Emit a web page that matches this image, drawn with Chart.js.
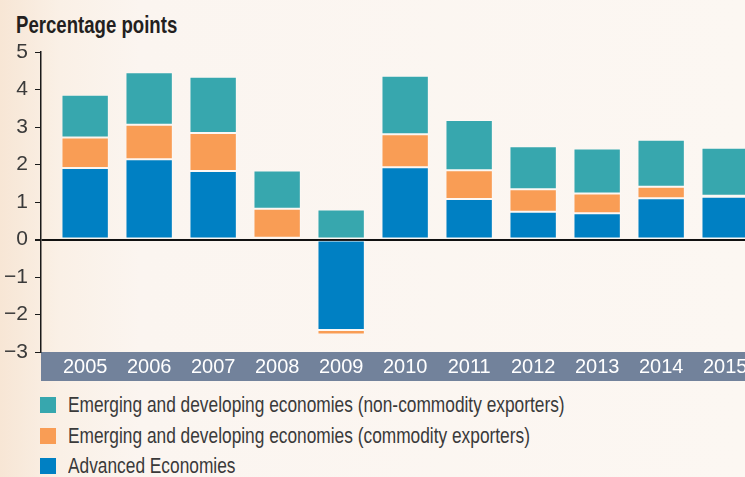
<!DOCTYPE html>
<html>
<head>
<meta charset="utf-8">
<script src="https://cdn.jsdelivr.net/npm/chart.js@4/dist/chart.umd.min.js"></script>
<style>
  html, body { margin: 0; padding: 0; }
  body {
    width: 745px; height: 477px; overflow: hidden; position: relative;
    background: linear-gradient(90deg, #f7e6d5 0px, #faf0e6 60px, #fbf5f0 140px, #fcf7f2 745px);
    font-family: "Liberation Sans", Arial, sans-serif;
  }
  #title {
    position: absolute; left: 16px; top: 11px; white-space: nowrap;
    font-size: 24px; font-weight: bold; color: #231f20;
    transform: scaleX(0.775); transform-origin: 0 0;
  }
  #wrap { position: absolute; left: 0; top: 0; width: 745px; height: 381px; }
  #legend { position: absolute; left: 40px; top: 390px; }
  .item { height: 30.5px; display: flex; align-items: center; }
  .sw { width: 16px; height: 16px; margin-right: 12px; flex: none; }
  .txt { font-size: 22px; color: #3a3a3a; white-space: nowrap; transform: scaleX(0.787); transform-origin: 0 50%; }
</style>
</head>
<body>
<div id="title">Percentage points</div>
<div id="wrap"><canvas id="c" width="745" height="381"></canvas></div>
<div id="legend"></div>
<script>
const years = [2005, 2006, 2007, 2008, 2009, 2010, 2011, 2012, 2013, 2014, 2015];
const advanced     = [1.91, 2.14, 1.83, 0.05, -2.41, 1.93, 1.08, 0.74, 0.70, 1.10, 1.14];
const commodity    = [0.81, 0.92, 1.01, 0.77, -0.12, 0.88, 0.77, 0.60, 0.53, 0.31, 0.03];
const nonCommodity = [1.14, 1.40, 1.50, 1.02, 0.80, 1.56, 1.34, 1.15, 1.20, 1.25, 1.28];
const yTicks = [-3, -2, -1, 0, 1, 2, 3, 4, 5];

const labelsTxt = {
  non: "Emerging and developing economies (non-commodity exporters)",
  com: "Emerging and developing economies (commodity exporters)",
  adv: "Advanced Economies"
};
const colors = { adv: "#0080c3", com: "#f99d55", non: "#37a7ae" };

function pts(arr) { return arr.map((v, i) => ({ x: years[i], y: v })); }

const bandPlugin = {
  id: 'band',
  beforeDraw(chart) {
    const { ctx, chartArea, scales } = chart;
    const xs = scales.x;
    ctx.save();
    ctx.fillStyle = '#72829b';
    ctx.fillRect(chartArea.left, xs.top, chart.width - chartArea.left, xs.bottom - xs.top);
    ctx.restore();
  }
};

const tickFont = { family: '"Liberation Sans", Arial, sans-serif', size: 20 };
const edge = 'rgba(255,255,255,0.28)';

const chart = new Chart(document.getElementById('c'), {
  type: 'bar',
  data: {
    datasets: [
      { label: labelsTxt.adv, data: pts(advanced), backgroundColor: colors.adv, borderColor: edge, borderWidth: 1, borderSkipped: false },
      { label: labelsTxt.com, data: pts(commodity), backgroundColor: colors.com, borderColor: edge, borderWidth: 1, borderSkipped: false },
      { label: labelsTxt.non, data: pts(nonCommodity), backgroundColor: colors.non, borderColor: edge, borderWidth: 1, borderSkipped: false }
    ]
  },
  options: {
    responsive: false,
    animation: false,
    events: [],
    layout: { padding: { top: 52, left: 0, right: 0, bottom: 0 } },
    barPercentage: 0.74,
    categoryPercentage: 1,
    plugins: { legend: { display: false }, title: { display: false }, tooltip: { enabled: false } },
    scales: {
      x: {
        type: 'linear',
        stacked: true,
        offset: false,
        min: 2004.31,
        max: 2015.31,
        afterBuildTicks(s) { s.ticks = years.map(v => ({ value: v })); },
        afterFit(s) { s.height = 29; s.paddingLeft = 0; s.paddingRight = 0; },
        grid: { display: false, drawTicks: false },
        border: { display: false },
        ticks: {
          autoSkip: false, maxRotation: 0, minRotation: 0, padding: 3,
          color: '#ffffff',
          font: tickFont,
          callback: v => String(v)
        }
      },
      y: {
        stacked: true,
        min: -3, max: 5,
        afterBuildTicks(s) { s.ticks = yTicks.map(v => ({ value: v })); },
        afterFit(s) { s.width = 41; },
        grid: {
          drawOnChartArea: true,
          drawTicks: true,
          tickLength: 6,
          tickColor: '#1a1a1a',
          lineWidth: c => (c.tick && c.tick.value === 0) ? 2 : 1,
          color: c => (c.tick && c.tick.value === 0) ? '#111111' : 'rgba(0,0,0,0)'
        },
        border: { display: true, color: '#1a1a1a', width: 1.5 },
        ticks: {
          padding: 7,
          color: '#3a3a3a',
          font: { family: '"Liberation Sans", Arial, sans-serif', size: 21 },
          callback: v => (v < 0 ? '\u2212' + Math.abs(v) : String(v))
        }
      }
    }
  },
  plugins: [bandPlugin]
});

// legend (top to bottom order as in reference)
const legend = document.getElementById('legend');
chart.data.datasets.slice().reverse().forEach(ds => {
  const d = document.createElement('div');
  d.className = 'item';
  const s = document.createElement('span');
  s.className = 'sw';
  s.style.background = ds.backgroundColor;
  const t = document.createElement('span');
  t.className = 'txt';
  t.textContent = ds.label;
  d.appendChild(s);
  d.appendChild(t);
  legend.appendChild(d);
});
</script>
</body>
</html>
